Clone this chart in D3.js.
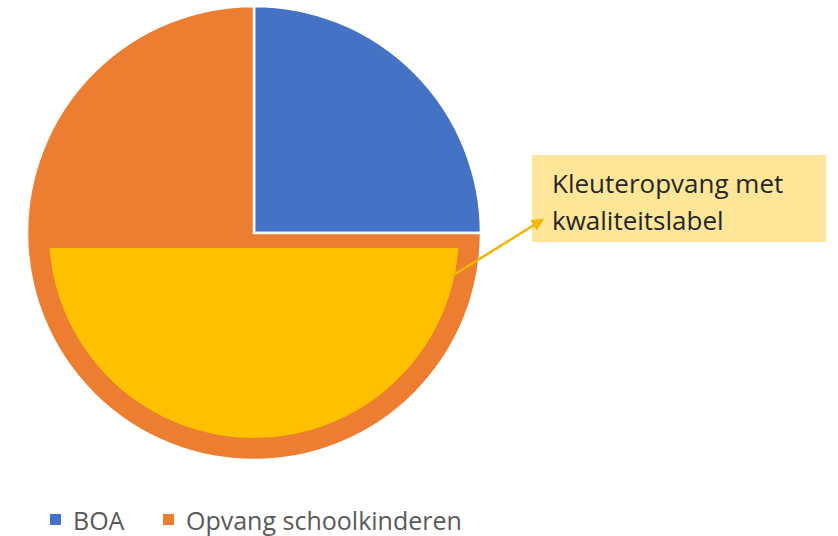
<!DOCTYPE html>
<html>
<head>
<meta charset="utf-8">
<script src="https://cdn.jsdelivr.net/npm/d3@7"></script>
<style>
  body { margin: 0; background: #fff; }
  text { font-family: "Open Sans", sans-serif; }
</style>
</head>
<body>
<div class="graph"></div>
<script>
// slices of the main pie
const categories = ["BOA", "Opvang schoolkinderen"]
const values = [25, 75]
const colors = ["#4472C4", "#ED7D31"]

// the highlighted part inside "Opvang schoolkinderen"
const subLabel = ["Kleuteropvang met", "kwaliteitslabel"]
const subValue = 50

const width = 838
const height = 536
const cx = 254, cy = 233
const radius = 227
const innerR = 205   // yellow segment radius
const segOffset = 15 // yellow segment starts this far below the centre

const svg = d3.select(".graph").append("svg")
    .attr("width", width)
    .attr("height", height)

const pie = d3.pie().sort(null).value(d => d)
const arc = d3.arc().innerRadius(0).outerRadius(radius)

const g = svg.append("g").attr("transform", `translate(${cx},${cy})`)

g.selectAll("path.slice")
  .data(pie(values))
  .join("path")
    .attr("class", "slice")
    .attr("d", arc)
    .attr("fill", (d, i) => colors[i])
    .attr("stroke", "#fff")
    .attr("stroke-width", 2.5)
    .attr("stroke-linejoin", "miter")

// yellow segment: bottom part of a smaller circle, sized from the sub value share
const share = subValue / d3.sum(values)   // 0.5 -> half disc
const a0 = Math.asin(segOffset / innerR)
const a1 = Math.PI - a0
const seg = d3.path()
seg.arc(0, 0, innerR, a0, a1 * share * 2)
seg.closePath()
g.append("path")
    .attr("d", seg.toString())
    .attr("fill", "#FFC000")

// callout box
const box = {x: 532, y: 155, w: 294, h: 87}
svg.append("rect")
    .attr("x", box.x).attr("y", box.y)
    .attr("width", box.w).attr("height", box.h)
    .attr("fill", "#FFE699")

svg.append("text")
    .attr("x", box.x + 20)
    .attr("y", box.y + 38)
    .attr("fill", "#262626")
    .attr("font-size", 26)
  .selectAll("tspan")
  .data(subLabel)
  .join("tspan")
    .attr("x", box.x + 20)
    .attr("dy", (d, i) => i === 0 ? 0 : 37)
    .text(d => d)

// arrow from the yellow segment to the box
svg.append("defs").append("marker")
    .attr("id", "arrow")
    .attr("viewBox", "0 0 10 10")
    .attr("refX", 8).attr("refY", 5)
    .attr("markerWidth", 5).attr("markerHeight", 5)
    .attr("orient", "auto")
  .append("path")
    .attr("d", "M0,0L10,5L0,10z")
    .attr("fill", "#F2B705")

svg.append("line")
    .attr("x1", 452).attr("y1", 276)
    .attr("x2", 542).attr("y2", 220)
    .attr("stroke", "#F2B705")
    .attr("stroke-width", 2.5)
    .attr("marker-end", "url(#arrow)")

// legend
const legendX = [50, 163]
const legend = svg.append("g").selectAll("g")
  .data(categories)
  .join("g")
    .attr("transform", (d, i) => `translate(${legendX[i]},514)`)

legend.append("rect")
    .attr("width", 11).attr("height", 11)
    .attr("fill", (d, i) => colors[i])

legend.append("text")
    .attr("x", 23)
    .attr("y", 16)
    .attr("font-size", 25)
    .attr("fill", "#595959")
    .text(d => d)
</script>
</body>
</html>
